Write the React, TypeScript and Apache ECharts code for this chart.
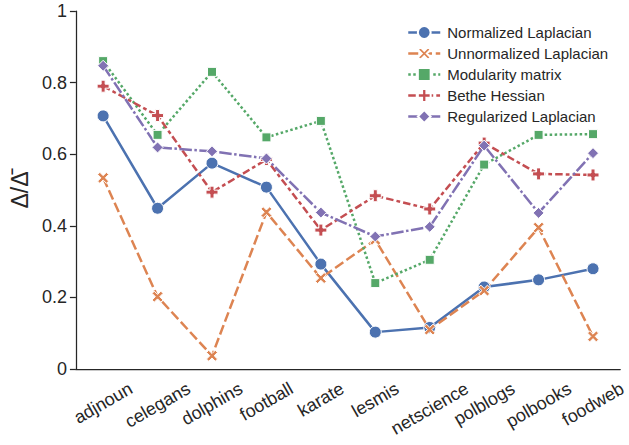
import React, { useEffect, useRef } from "react";
import * as echarts from "echarts";

const categories = ["adjnoun", "celegans", "dolphins", "football", "karate", "lesmis", "netscience", "polblogs", "polbooks", "foodweb"];
const normalizedLaplacian = [0.707, 0.449, 0.575, 0.508, 0.293, 0.103, 0.116, 0.229, 0.249, 0.280];
const unnormalizedLaplacian = [0.534, 0.202, 0.037, 0.438, 0.254, 0.361, 0.110, 0.219, 0.395, 0.091];
const modularityMatrix = [0.860, 0.654, 0.830, 0.647, 0.693, 0.240, 0.305, 0.571, 0.654, 0.656];
const betheHessian = [0.790, 0.708, 0.494, 0.585, 0.388, 0.484, 0.447, 0.631, 0.545, 0.542];
const regularizedLaplacian = [0.847, 0.619, 0.608, 0.588, 0.437, 0.370, 0.397, 0.624, 0.436, 0.603];
const yTicks = [0, 0.2, 0.4, 0.6, 0.8, 1];

const FONT = "'Liberation Sans', Arial, sans-serif";
const TXT = "#262626";
const PLUS = "path://M2,0 H4 V2 H6 V4 H4 V6 H2 V4 H0 V2 H2 Z";
const XSHAPE = "path://M1.2,0 L3,1.8 L4.8,0 L6,1.2 L4.2,3 L6,4.8 L4.8,6 L3,4.2 L1.2,6 L0,4.8 L1.8,3 L0,1.2 Z";
const LW = 2.5;
const XFS = 18;
const YFS = 18;

export default function App() {
  const ref = useRef<HTMLDivElement>(null);
  useEffect(() => {
    if (!ref.current) return;
    const chart = echarts.init(ref.current, undefined, { renderer: "svg" });

    // matplotlib-like rotated labels: rotated bbox centred on the tick, top just below the tick
    const ctx = document.createElement("canvas").getContext("2d");
    const rich: Record<string, any> = {};
    categories.forEach((c, i) => {
      let w = c.length * XFS * 0.5;
      if (ctx) {
        ctx.font = `${XFS}px 'Liberation Sans'`;
        w = ctx.measureText(c).width;
      }
      const d = (0.5 * w + 0.866 * 14) / 2;
      rich["l" + i] = {
        fontSize: XFS,
        fontFamily: FONT,
        color: TXT,
        padding: [1.732 * d, d, 0, 0],
      };
    });

    const mk = (name: string, data: number[], color: string, dash: any, symbol: string, size: number) => ({
      name,
      type: "line",
      data,
      symbol,
      symbolSize: size,
      itemStyle: { color, borderColor: "#ffffff", borderWidth: 1 },
      lineStyle: { color, width: LW, type: dash },
      emphasis: { disabled: true },
    });
    chart.setOption({
      animation: false,
      backgroundColor: "#ffffff",
      textStyle: { fontFamily: FONT },
      grid: { left: 72, right: 1, top: 11, bottom: 76, containLabel: false },
      legend: {
        left: 402,
        top: 20,
        orient: "vertical",
        itemWidth: 32,
        itemHeight: 16,
        itemGap: 6,
        lineStyle: { width: LW },
        textStyle: { fontFamily: FONT, fontSize: 15, color: TXT, padding: [0, 0, 0, 2] },
        data: ["Normalized Laplacian", "Unnormalized Laplacian", "Modularity matrix", "Bethe Hessian", "Regularized Laplacian"],
      },
      xAxis: {
        type: "category",
        data: categories,
        boundaryGap: true,
        axisLine: { lineStyle: { color: TXT, width: 1.25 } },
        axisTick: { alignWithLabel: true, length: 6, lineStyle: { color: TXT, width: 1.25 } },
        axisLabel: {
          rotate: 30,
          interval: 0,
          margin: 12,
          align: "center",
          verticalAlign: "middle",
          formatter: (v: string, i: number) => `{l${i}|${v}}`,
          rich,
        },
        splitLine: { show: false },
      },
      yAxis: {
        type: "value",
        min: 0,
        max: 1,
        interval: 0.2,
        name: "Δ/Δ̄",
        nameLocation: "middle",
        nameGap: 39,
        nameRotate: 90,
        nameTextStyle: { fontSize: 23, color: TXT, fontFamily: FONT },
        axisLine: { show: true, lineStyle: { color: TXT, width: 1.25 } },
        axisTick: { show: true, length: 6, lineStyle: { color: TXT, width: 1.25 } },
        axisLabel: {
          fontSize: YFS,
          color: TXT,
          fontFamily: FONT,
          margin: 9,
          formatter: (v: number) => {
            const t = yTicks.find((x) => Math.abs(x - v) < 1e-9);
            return t === 0 ? "0" : t === 1 ? "1" : v.toFixed(1);
          },
        },
        splitLine: { show: false },
      },
      series: [
        mk("Normalized Laplacian", normalizedLaplacian, "#4C72B0", "solid", "circle", 12),
        mk("Unnormalized Laplacian", unnormalizedLaplacian, "#DD8452", [10, 3.75], XSHAPE, 11),
        mk("Modularity matrix", modularityMatrix, "#55A868", [2.5, 2.5], "rect", 9),
        mk("Bethe Hessian", betheHessian, "#C44E52", [7.5, 3.1, 3.75, 3.1], PLUS, 12),
        mk("Regularized Laplacian", regularizedLaplacian, "#8172B3", [12.5, 2.5, 2.5, 2.5], "diamond", 11),
      ],
    });
    return () => chart.dispose();
  }, []);
  return <div ref={ref} style={{ width: 629, height: 445, position: "absolute", left: 0, top: 0 }} />;
}
